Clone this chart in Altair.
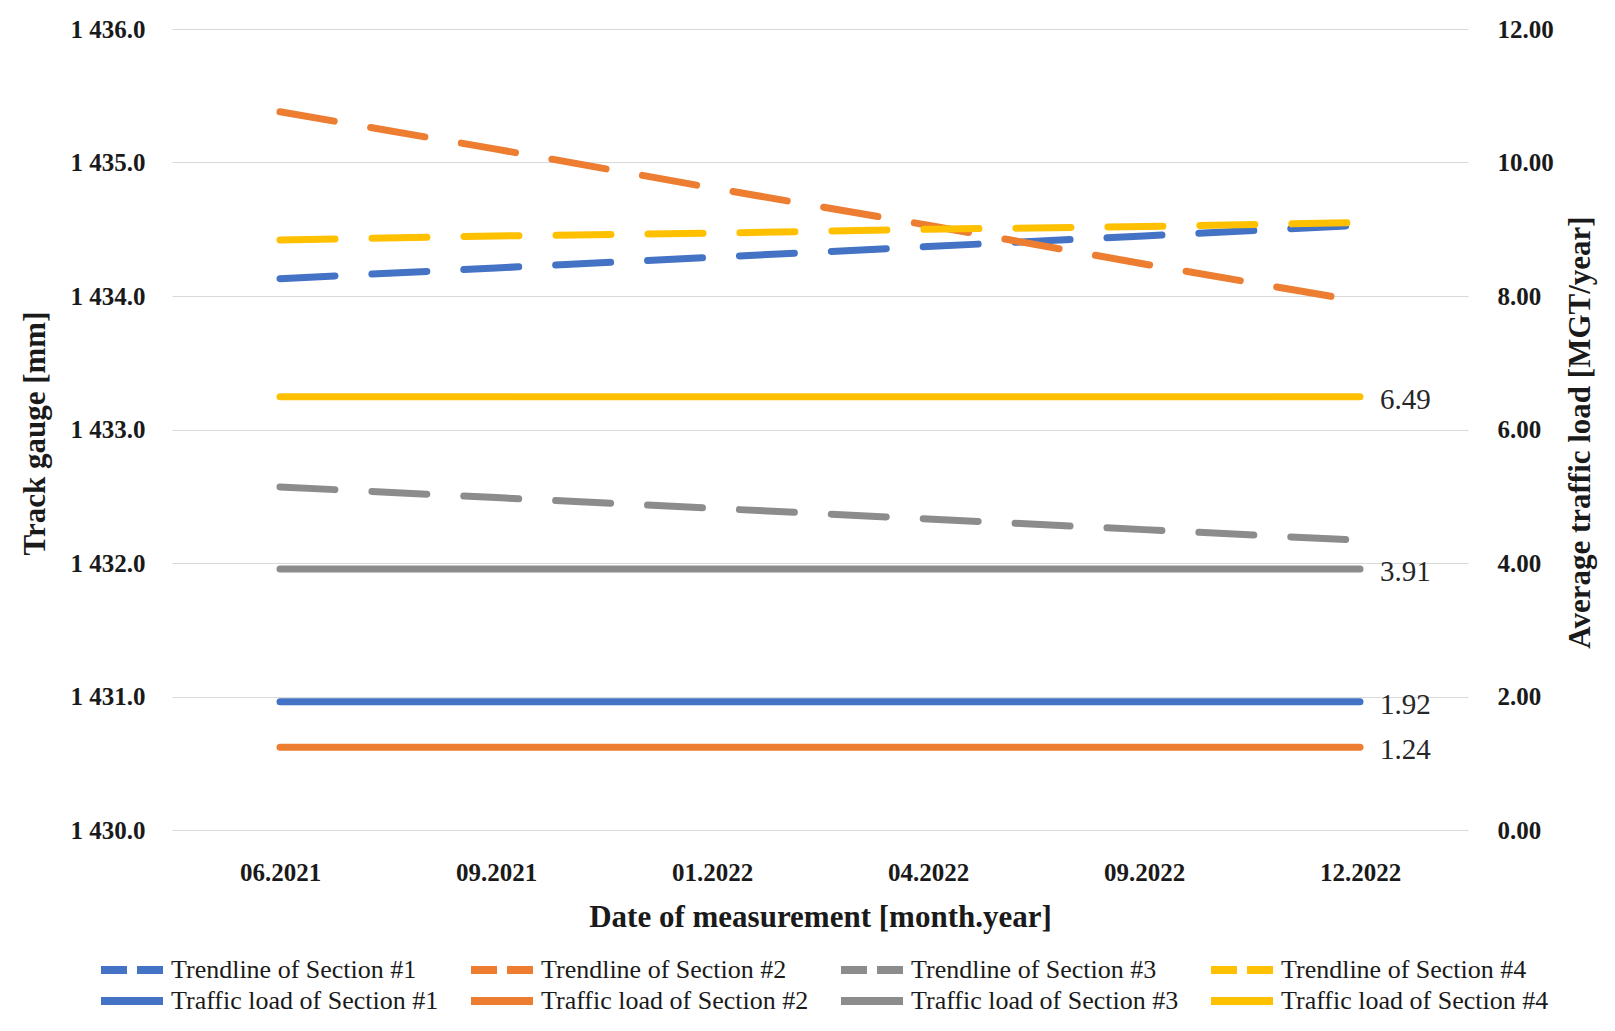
import altair as alt
import pandas as pd

dates = ["06.2021", "09.2021", "01.2022", "04.2022", "09.2022", "12.2022"]

trend_names = ["Trendline of Section #1", "Trendline of Section #2",
               "Trendline of Section #3", "Trendline of Section #4"]
load_names = ["Traffic load of Section #1", "Traffic load of Section #2",
              "Traffic load of Section #3", "Traffic load of Section #4"]

trend_s1 = [1434.13, 1434.21, 1434.29, 1434.37, 1434.45, 1434.53]
trend_s2 = [1435.38, 1435.10, 1434.81, 1434.53, 1434.24, 1433.96]
trend_s3 = [1432.57, 1432.49, 1432.41, 1432.33, 1432.25, 1432.17]
trend_s4 = [1434.42, 1434.45, 1434.47, 1434.50, 1434.52, 1434.55]

loads = [1.92, 1.24, 3.91, 6.49]

colors = ["#4472C4", "#ED7D31", "#8C8C8C", "#FFC000"]

FONT = "Liberation Serif"

trend_rows = []
for name, vals in zip(trend_names, [trend_s1, trend_s2, trend_s3, trend_s4]):
    for d, v in zip(dates, vals):
        trend_rows.append({"date": d, "series": name, "gauge": v})
trend_df = pd.DataFrame(trend_rows)

load_rows = []
for name, v in zip(load_names, loads):
    for d in dates:
        load_rows.append({"date": d, "load_series": name, "load": v})
load_df = pd.DataFrame(load_rows)

x_enc = alt.X(
    "date:N", sort=dates,
    scale=alt.Scale(type="point", padding=0.5),
    axis=alt.Axis(
        title="Date of measurement [month.year]",
        labelFont=FONT, labelFontSize=25, labelFontWeight="bold", labelColor="#1a1a1a",
        labelBaseline="middle", labelPadding=42, labelAngle=0,
        titleFont=FONT, titleFontSize=31, titleFontWeight="bold", titleColor="#1a1a1a",
        titleBaseline="middle", titleY=87,
        ticks=False, tickSize=0, domain=False, grid=False,
    ),
)

legend_common = dict(
    title=None, orient="none", columns=4, direction="horizontal",
    symbolType="stroke", symbolSize=3844, symbolStrokeWidth=8,
    labelFont=FONT, labelFontSize=26, labelColor="#1a1a1a",
    labelOffset=4, labelLimit=400, gridAlign="all",
)

trend = alt.Chart(trend_df).mark_line(
    strokeWidth=7, strokeDash=[55, 37], strokeCap="round"
).encode(
    x=x_enc,
    y=alt.Y(
        "gauge:Q",
        scale=alt.Scale(domain=[1430, 1436], nice=False, zero=False),
        axis=alt.Axis(
            title="Track gauge [mm]", orient="left",
            values=[1430, 1431, 1432, 1433, 1434, 1435, 1436],
            labelExpr="replace(format(datum.value, ',.1f'), ',', ' ')",
            labelFont=FONT, labelFontSize=25, labelFontWeight="bold", labelColor="#1a1a1a",
            labelPadding=27,
            titleFont=FONT, titleFontSize=31, titleFontWeight="bold", titleColor="#1a1a1a",
            titleAngle=270, titleBaseline="middle", titleAlign="center",
            titleX=-137, titleY=404,
            ticks=False, tickSize=0, domain=False,
            grid=True, gridColor="#d9d9d9", gridWidth=1.2,
        ),
    ),
    color=alt.Color(
        "series:N",
        scale=alt.Scale(domain=trend_names, range=colors),
        legend=alt.Legend(legendX=-75, legendY=906, columnPadding=38,
                          symbolDash=[26, 10], **legend_common),
    ),
)

y_right = alt.Y(
    "load:Q",
    scale=alt.Scale(domain=[0, 12], nice=False),
    axis=alt.Axis(
        title="Average traffic load [MGT/year]", orient="right",
        values=[0, 2, 4, 6, 8, 10, 12], format=".2f",
        labelFont=FONT, labelFontSize=25, labelFontWeight="bold", labelColor="#1a1a1a",
        labelPadding=29,
        titleFont=FONT, titleFontSize=31, titleFontWeight="bold", titleColor="#1a1a1a",
        titleAngle=270, titleBaseline="middle", titleAlign="center",
        titleX=112, titleY=403,
        ticks=False, tickSize=0, domain=False, grid=False,
    ),
)

load_lines = alt.Chart(load_df).mark_line(
    strokeWidth=7, strokeCap="round"
).encode(
    x=x_enc,
    y=y_right,
    stroke=alt.Stroke(
        "load_series:N",
        scale=alt.Scale(domain=load_names, range=colors),
        legend=alt.Legend(legendX=-75, legendY=937, columnPadding=16, **legend_common),
    ),
)

load_labels = alt.Chart(load_df).transform_filter(
    alt.datum.date == dates[-1]
).mark_text(
    align="left", baseline="middle", dx=20, dy=3,
    font=FONT, fontSize=29, color="#262626"
).encode(
    x=x_enc,
    y=y_right,
    text=alt.Text("load:Q", format=".2f"),
)

right = alt.layer(load_lines, load_labels)

chart = alt.layer(trend, right).resolve_scale(y="independent").properties(
    width=1296, height=801,
    padding={"left": 164, "top": 21, "right": 139, "bottom": 193},
    autosize=alt.AutoSizeParams(type="none"),
    background="white",
).configure_view(stroke=None)

chart.save("out.html", embed_options={"renderer": "svg", "actions": False})
